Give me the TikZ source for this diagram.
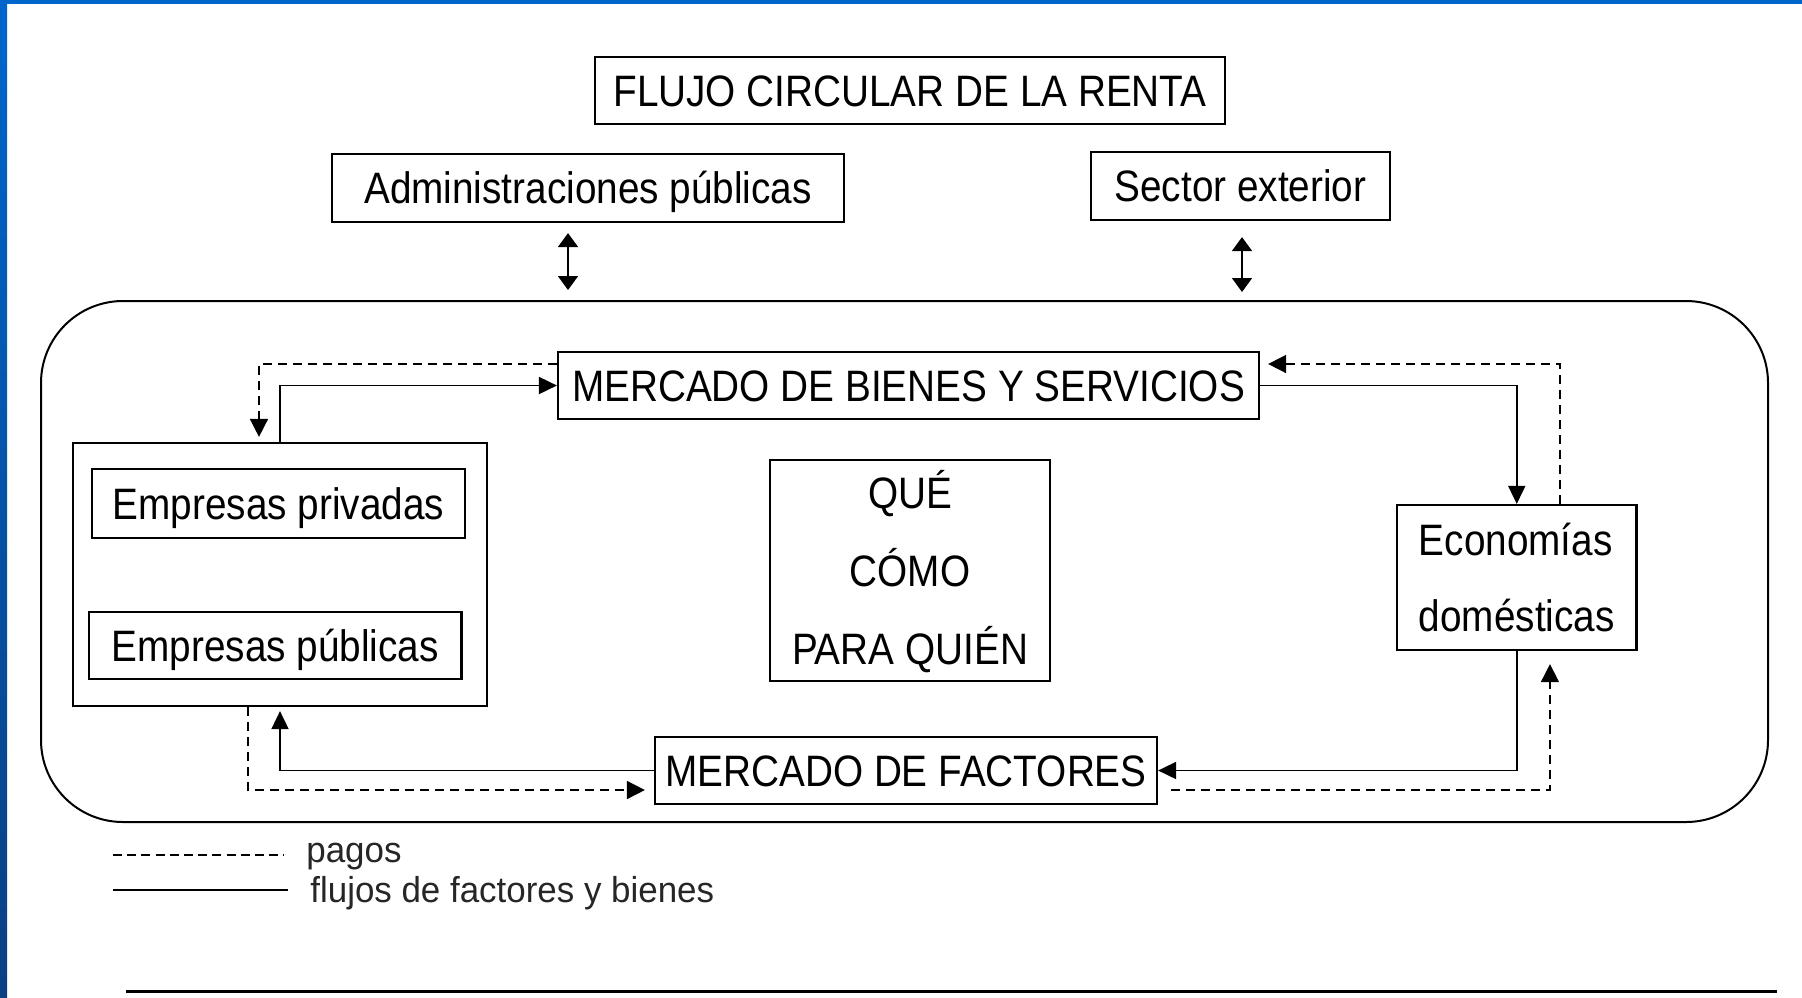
\documentclass[tikz,border=0pt]{standalone}
\usepackage{fontspec}
\setmainfont{Liberation Sans}[FakeStretch=0.88]
\newfontfamily\legfont{Liberation Sans}[FakeStretch=0.97]
\usetikzlibrary{arrows.meta}
\definecolor{bandtop}{HTML}{0066CC}
\definecolor{bandbot}{HTML}{0A3F82}
\begin{document}
\begin{tikzpicture}[x=0.5pt,y=-0.5pt,
  box/.style={draw=black,line width=1.1pt,inner sep=0pt,font=\fontsize{22pt}{38pt}\selectfont,text height=15.75pt,text depth=0pt},
  flow/.style={line width=0.9pt,-{Triangle[length=9pt,width=8.5pt]}},
  pay/.style={line width=0.8pt,dash pattern=on 4.5pt off 3pt,-{Triangle[length=9pt,width=9pt]}},
  dbl/.style={line width=0.9pt,{Triangle[length=7pt,width=10pt]}-{Triangle[length=7pt,width=10pt]}},
  legtext/.style={font=\legfont\fontsize{18pt}{22pt}\selectfont,text=black!85,inner sep=0pt,anchor=base west}
]
\useasboundingbox (0,0) rectangle (1802,997);
\fill[white] (0,0) rectangle (1802,997);
\fill[bandtop] (0,0) rectangle (1802,4);
\shade[top color=bandtop,bottom color=bandbot] (0,0) rectangle (7,997);

\node[box,minimum width=315pt,minimum height=33.5pt] (title) at (910,90.5) {FLUJO CIRCULAR DE LA RENTA};
\node[box,minimum width=256pt,minimum height=34pt] (admin) at (588,188) {Administraciones públicas};
\node[box,minimum width=149.5pt,minimum height=34pt] (sector) at (1240.5,186) {Sector exterior};
\node[draw,line width=1pt,rounded corners=41pt,minimum width=863.5pt,minimum height=260.5pt,inner sep=0pt] (outer) at (904.5,561.5) {};
\node[box,minimum width=350.5pt,minimum height=33.5pt] (mbs) at (908.5,385.5) {MERCADO DE BIENES Y SERVICIOS};
\node[box,minimum width=207pt,minimum height=131.5pt] (emp) at (280,574.5) {};
\node[box,minimum width=186.5pt,minimum height=34.5pt] (priv) at (278.5,503.5) {Empresas privadas};
\node[box,minimum width=186.25pt,minimum height=33.5pt] (pub) at (275.25,645.5) {Empresas públicas};
\node[box,minimum width=140pt,minimum height=110.5pt,align=center,font=\fontsize{22pt}{39pt}\selectfont,text height=93.75pt,text depth=0pt] (que) at (910,570.5) {QUÉ\\CÓMO\\PARA QUIÉN};
\node[box,minimum width=119.75pt,minimum height=72.5pt,align=left,text height=53.75pt,text depth=0pt] (econ) at (1516.75,577.5) {Economías\\domésticas};
\node[box,minimum width=251pt,minimum height=33.5pt] (mf) at (906,770.5) {MERCADO DE FACTORES};

% double arrows
\draw[dbl,shorten <=5pt,shorten >=5pt] ([xshift=-10pt]admin.south) -- ([xshift=-10pt]admin.south |- outer.north);
\draw[dbl,shorten <=8pt,shorten >=4pt] ([xshift=0.75pt]sector.south) -- ([xshift=0.75pt]sector.south |- outer.north);

% flows
\draw[flow] (emp.north) |- (mbs.west);
\draw[pay,shorten >=2.5pt] ([yshift=10.75pt]mbs.west) -| ([xshift=-10.5pt]emp.north);
\draw[flow] (mbs.east) -| (econ.north);
\draw[pay,shorten >=4pt] ([xshift=21.5pt]econ.north) |- ([yshift=10.75pt]mbs.east);
\draw[flow] (econ.south) |- (mf.east);
\draw[pay,shorten <=6.5pt,shorten >=6.5pt] ([yshift=-9.75pt]mf.east) -| ([xshift=16.6pt]econ.south);
\draw[flow,shorten >=2pt] (mf.west) -| (emp.south);
\draw[pay,shorten >=4.5pt] ([xshift=-16pt]emp.south) |- ([yshift=-9.75pt]mf.west);

% legend
\node[legtext] (lpay) at (306,862) {pagos};
\node[legtext] (lflow) at (310,902) {flujos de factores y bienes};
\coordinate (lpa) at (113,855); \coordinate (lpb) at (284,855);
\draw[line width=0.7pt,dash pattern=on 4.5pt off 2.6pt] (lpa) -- (lpb);
\coordinate (lfa) at (113,890); \coordinate (lfb) at (288,890);
\draw[line width=0.8pt] (lfa) -- (lfb);

% bottom rule
\coordinate (ba) at (126,991); \coordinate (bb) at (1777,991);
\draw[line width=1.5pt] (ba) -- (bb);
\end{tikzpicture}
\end{document}
